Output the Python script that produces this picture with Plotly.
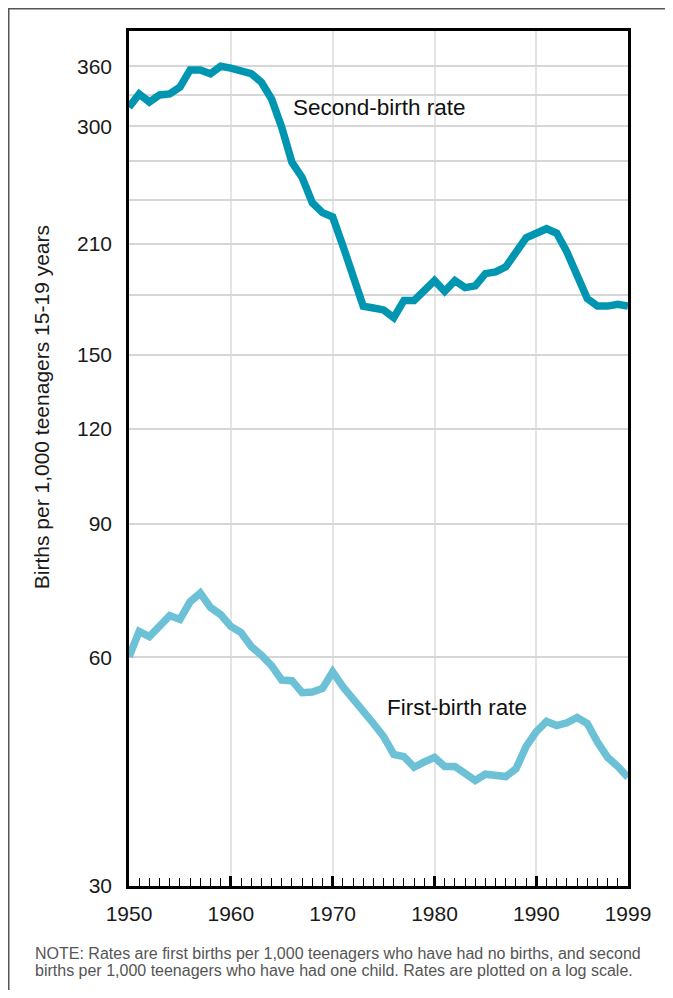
import plotly.graph_objects as go
import numpy as np

years = list(range(1950, 2000))

# births per 1,000 teenagers (log scale in the chart)
second_birth = [318, 331, 323, 330, 331, 338, 356, 356, 352, 360,
                358, 355, 352, 343, 326, 299, 269, 257, 238, 231,
                228, 209, 190, 174, 173, 172, 168, 177, 177, 182,
                188, 182, 188, 184, 185, 192, 193, 196, 205, 214,
                217, 220, 217, 205, 191, 178, 174, 174, 175, 174]

first_birth = [60.1, 64.9, 63.9, 66.1, 68.1, 67.3, 71.0, 72.9, 69.8, 68.3,
               65.9, 64.7, 62.0, 60.4, 58.5, 56.0, 55.9, 53.9, 54.0, 54.6,
               57.4, 54.9, 53.0, 51.0, 49.1, 47.2, 44.7, 44.4, 43.0, 43.7,
               44.3, 43.1, 43.1, 42.2, 41.3, 42.1, 42.0, 41.8, 42.8, 45.8,
               47.9, 49.4, 48.8, 49.2, 50.0, 49.1, 46.4, 44.3, 43.1, 41.7]

y_ticks = [30, 60, 90, 120, 150, 180, 210, 240, 270, 300, 330, 360]
y_labels = ["30", "60", "90", "120", "150", "", "210", "", "", "300", "", "360"]
x_ticks = [1950, 1960, 1970, 1980, 1990, 1999]
x_labels = ["1950", "1960", "1970", "1980", "1990", "1999"]

note_lines = [
    "NOTE: Rates are first births per 1,000 teenagers who have had no births, and second",
    "births per 1,000 teenagers who have had one child. Rates are plotted on a log scale.",
]

FONT = "Liberation Sans, Arial, sans-serif"

fig = go.Figure()

fig.add_trace(go.Scatter(
    x=years, y=second_birth, mode="lines", name="Second-birth rate",
    line=dict(color="#0096b1", width=7.5), showlegend=False,
))
fig.add_trace(go.Scatter(
    x=years, y=first_birth, mode="lines", name="First-birth rate",
    line=dict(color="#6cc1d6", width=7.5), showlegend=False,
))

# the page body adds an 8px margin, so the figure is sized to fit inside it
fig.update_layout(
    width=665, height=982,
    margin=dict(l=121, r=45, t=23, b=104),
    paper_bgcolor="white", plot_bgcolor="white",
    font=dict(family=FONT, size=21, color="#1a1a1a"),
    xaxis=dict(
        range=[1950, 1999],
        tickvals=x_ticks, ticktext=x_labels,
        ticks="inside", ticklen=10, tickwidth=2.5, tickcolor="black",
        ticklabelstandoff=7,
        minor=dict(tick0=1950, dtick=1, ticks="inside", ticklen=8,
                   tickwidth=1.3, tickcolor="black", showgrid=False),
        showgrid=True, gridcolor="#e4e4e4", gridwidth=2,
        showline=True, linecolor="black", linewidth=2.5, mirror=True,
        zeroline=False,
        tickfont=dict(size=21, color="#1a1a1a"),
    ),
    yaxis=dict(
        type="log",
        range=[np.log10(30), np.log10(400.6)],
        tickvals=y_ticks, ticktext=y_labels,
        ticks="", ticklabelstandoff=10,
        showgrid=True, gridcolor="#d6d6d6", gridwidth=2.2,
        showline=True, linecolor="black", linewidth=2.5, mirror=True,
        zeroline=False,
        tickfont=dict(size=21, color="#1a1a1a"),
    ),
)

# line labels
fig.add_annotation(x=1965.9, y=np.log10(318), text="Second-birth rate",
                   showarrow=False, xanchor="left", yanchor="middle",
                   font=dict(size=22.5, color="#111"))
fig.add_annotation(x=1975.15, y=np.log10(51.5), text="First-birth rate",
                   showarrow=False, xanchor="left", yanchor="middle",
                   font=dict(size=22.5, color="#111"))

# y title
fig.add_annotation(xref="paper", yref="paper", x=-0.1763, y=0.560,
                   text="Births per 1,000 teenagers 15-19 years",
                   textangle=-90, showarrow=False,
                   xanchor="center", yanchor="middle",
                   font=dict(size=21, color="#1a1a1a"))

# note, one annotation per line to keep the tight line spacing
for i, line in enumerate(note_lines):
    fig.add_annotation(xref="paper", yref="paper", x=-0.1924, y=-0.0789 - i * 0.0205,
                       text=line, showarrow=False,
                       xanchor="left", yanchor="middle", align="left",
                       font=dict(size=16, color="#555"))

# outer frame (left and top edges), just inside the figure's corner
fig.add_shape(type="path", xref="paper", yref="paper",
              path="M -0.241,-0.15 L -0.241,1.026 L 1.1,1.026",
              line=dict(color="#555", width=1.5))

fig.write_html("out.html")
